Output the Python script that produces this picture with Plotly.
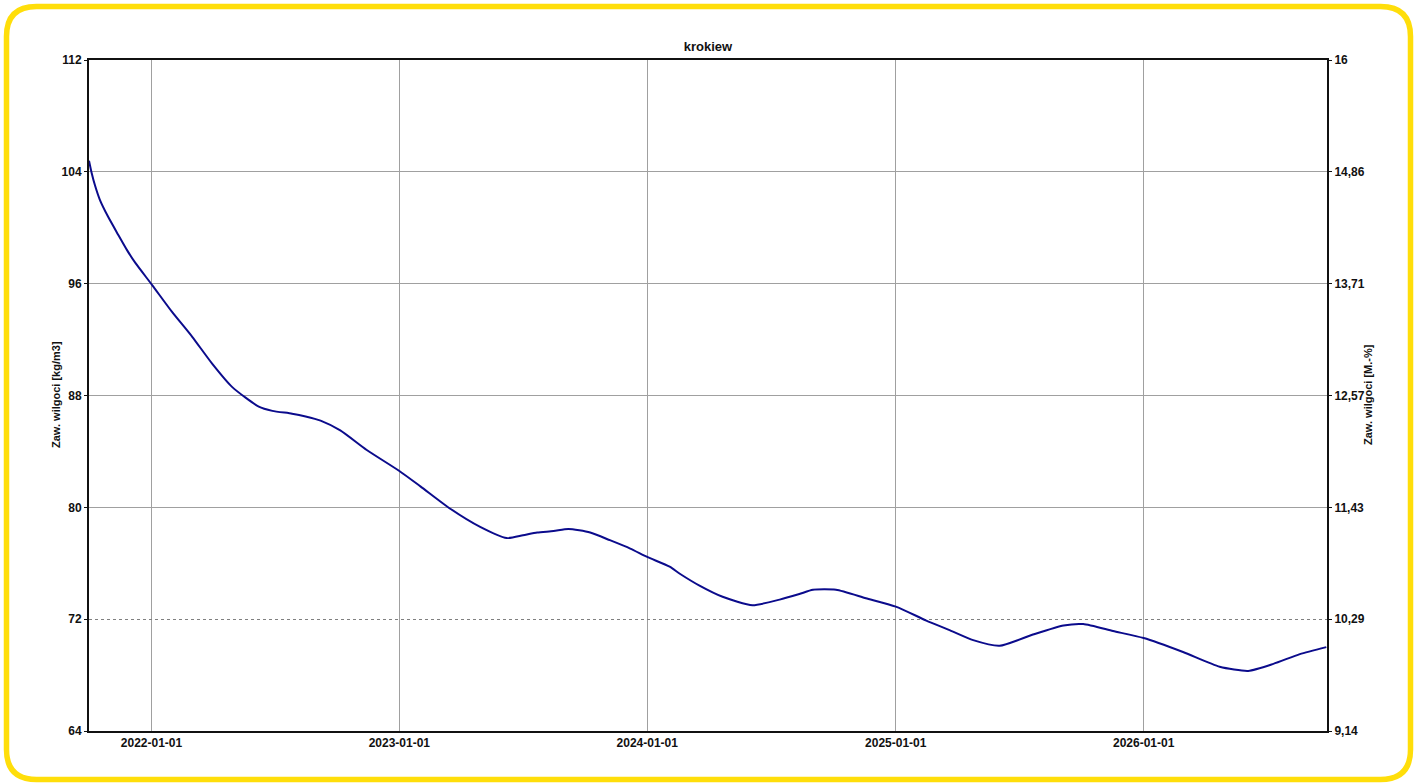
import plotly.graph_objects as go

# ---- data ----
dates = ["2021-10-01", "2021-10-05", "2021-10-10", "2021-10-17", "2021-10-29", "2021-11-13",
         "2021-11-26", "2021-12-08", "2022-01-02", "2022-01-31",
         "2022-03-02", "2022-03-31", "2022-04-30", "2022-06-08", "2022-06-28", "2022-07-27",
         "2022-08-16", "2022-09-07", "2022-10-06", "2022-11-14", "2023-01-01", "2023-02-01",
         "2023-03-17", "2023-04-30", "2023-06-08", "2023-07-02", "2023-07-23", "2023-08-16",
         "2023-09-07", "2023-10-09", "2023-11-07", "2023-12-07", "2024-01-01", "2024-02-03",
         "2024-02-18", "2024-03-18", "2024-04-21", "2024-06-04", "2024-07-14", "2024-08-12",
         "2024-09-01", "2024-10-05", "2024-11-18", "2025-01-01", "2025-02-15", "2025-03-22",
         "2025-04-25", "2025-06-03", "2025-07-22", "2025-09-05", "2025-10-04", "2025-11-17",
         "2026-01-01", "2026-02-28", "2026-04-23", "2026-06-04", "2026-07-11", "2026-08-19",
         "2026-09-27"]
moisture_kg_m3 = [104.8, 103.9, 103.0, 102.0, 100.8, 99.5,
                  98.4, 97.5, 95.9, 94.0,
                  92.2, 90.3, 88.6, 87.2, 86.9, 86.7,
                  86.5, 86.2, 85.5, 84.1, 82.6, 81.5,
                  79.9, 78.6, 77.8, 78.0, 78.2, 78.3,
                  78.45, 78.2, 77.65, 77.05, 76.45, 75.75,
                  75.25, 74.4, 73.6, 73.0, 73.4, 73.8,
                  74.1, 74.1, 73.5, 72.9, 71.9, 71.2,
                  70.5, 70.1, 70.9, 71.55, 71.65, 71.15,
                  70.65, 69.65, 68.6, 68.3, 68.8, 69.5,
                  70.0]
density_factor = 7.0  # kg/m3 -> M.-% conversion used by the right axis

left_ticks = [64, 72, 80, 88, 96, 104, 112]
right_tickvals = [v / density_factor for v in left_ticks]
right_ticktext = ["9,14", "10,29", "11,43", "12,57", "13,71", "14,86", "16"]
x_ticks = ["2022-01-01", "2023-01-01", "2024-01-01", "2025-01-01", "2026-01-01"]
x_range = ["2021-10-01", "2026-09-28"]

title_text = "krokiew"
left_title = "Zaw. wilgoci [kg/m3]"
right_title = "Zaw. wilgoci [M.-%]"

W, H = 1420, 783
L, R, T, B = 89, 1327, 60, 731

FONT = "Liberation Sans, Arial, sans-serif"
tickfont = dict(family=FONT, size=12, color="#111111", weight="bold")

fig = go.Figure()
fig.add_trace(go.Scatter(x=dates, y=moisture_kg_m3, mode="lines",
                         line=dict(color="#0b0b8c", width=2, shape="spline", smoothing=0.6),
                         yaxis="y", showlegend=False, hoverinfo="x+y"))
# invisible companions so the overlay axes are drawn
fig.add_trace(go.Scatter(x=dates, y=[v / density_factor for v in moisture_kg_m3], mode="lines",
                         line=dict(width=0), opacity=0, yaxis="y2", showlegend=False, hoverinfo="skip"))
fig.add_trace(go.Scatter(x=dates, y=moisture_kg_m3, mode="lines", line=dict(width=0), opacity=0,
                         yaxis="y3", showlegend=False, hoverinfo="skip"))
fig.add_trace(go.Scatter(x=dates, y=moisture_kg_m3, mode="lines", line=dict(width=0), opacity=0,
                         yaxis="y4", showlegend=False, hoverinfo="skip"))

yr = [left_ticks[0], left_ticks[-1]]

def px2paper_x(px):
    return (px - L) / (R - L)

def px2paper_y(py):
    return (B - py) / (B - T)

# rounded yellow frame
fx0, fx1, fy0, fy1, rad = 6.5, 1410.5, 6.5, 779.5, 30
def P(x, y):
    return f"{px2paper_x(x):.5f},{px2paper_y(y):.5f}"
path = (f"M {P(fx0 + rad, fy0)} L {P(fx1 - rad, fy0)} Q {P(fx1, fy0)} {P(fx1, fy0 + rad)} "
        f"L {P(fx1, fy1 - rad)} Q {P(fx1, fy1)} {P(fx1 - rad, fy1)} "
        f"L {P(fx0 + rad, fy1)} Q {P(fx0, fy1)} {P(fx0, fy1 - rad)} "
        f"L {P(fx0, fy0 + rad)} Q {P(fx0, fy0)} {P(fx0 + rad, fy0)} Z")

fig.update_layout(
    width=W, height=H,
    margin=dict(l=L, r=W - R, t=T, b=H - B, pad=0),
    paper_bgcolor="white", plot_bgcolor="white",
    font=dict(family=FONT, size=12, color="#111111"),
    title=dict(text=title_text, x=(px2paper_x(708)), xref="paper", xanchor="center",
               y=1 - 46 / H, yref="container", yanchor="middle",
               font=dict(family=FONT, size=13, color="#111111", weight="bold")),
    xaxis=dict(type="date", range=x_range, tickvals=x_ticks, tickformat="%Y-%m-%d",
               showgrid=True, gridcolor="#a0a0a0", gridwidth=1,
               showline=True, linecolor="#111111", linewidth=2, mirror=True,
               ticks="", tickfont=tickfont, zeroline=False),
    yaxis=dict(range=yr, tickvals=left_ticks, showgrid=False, zeroline=False,
               showline=True, linecolor="#111111", linewidth=2,
               ticks="outside", ticklen=3, tickcolor="#111111", tickfont=tickfont),
    yaxis2=dict(range=[yr[0] / density_factor, yr[1] / density_factor], overlaying="y", side="right",
                tickvals=right_tickvals, ticktext=right_ticktext, showgrid=False, zeroline=False,
                showline=True, linecolor="#111111", linewidth=2,
                ticks="outside", ticklen=3, tickcolor="#111111", tickfont=tickfont),
    yaxis3=dict(range=yr, overlaying="y", tickvals=[80, 88, 96, 104], showticklabels=False,
                showgrid=True, gridcolor="#a0a0a0", gridwidth=1, showline=False, zeroline=False, ticks=""),
    yaxis4=dict(range=yr, overlaying="y", tickvals=[72], showticklabels=False,
                showgrid=True, gridcolor="#808080", gridwidth=1, griddash="dot",
                showline=False, zeroline=False, ticks=""),
    shapes=[dict(type="path", xref="paper", yref="paper", path=path,
                 line=dict(color="#FFDE0A", width=5.5), fillcolor="rgba(0,0,0,0)", layer="above")],
    annotations=[
        dict(text=left_title, x=px2paper_x(56), y=px2paper_y(395), xref="paper", yref="paper",
             textangle=-90, showarrow=False, xanchor="center", yanchor="middle",
             font=dict(family=FONT, size=11, color="#111111", weight="bold")),
        dict(text=right_title, x=px2paper_x(1368), y=px2paper_y(395), xref="paper", yref="paper",
             textangle=-90, showarrow=False, xanchor="center", yanchor="middle",
             font=dict(family=FONT, size=11, color="#111111", weight="bold")),
    ],
)

fig.write_html("out.html", config={"displayModeBar": False},
               post_script="document.body.style.margin='0';document.body.style.overflow='hidden';")
